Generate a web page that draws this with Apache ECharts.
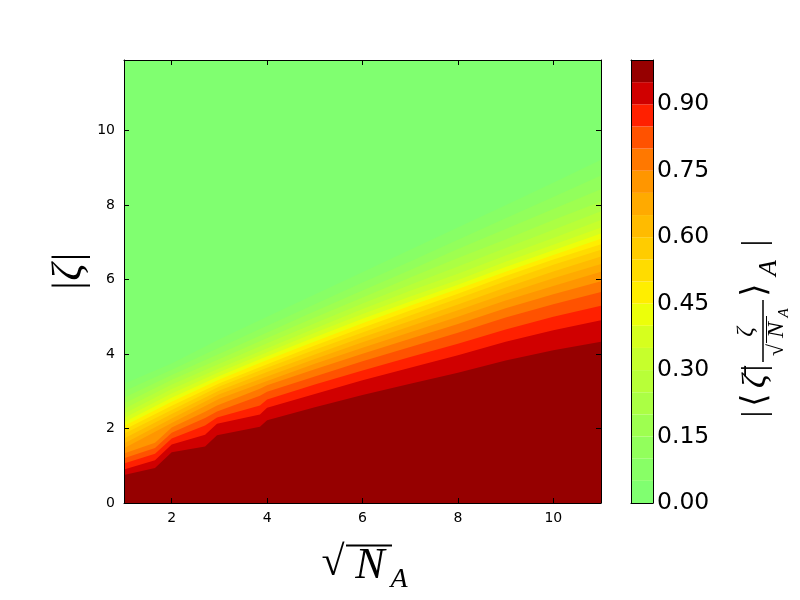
<!DOCTYPE html>
<html><head><meta charset="utf-8">
<script src="https://cdn.jsdelivr.net/npm/echarts@6/dist/echarts.min.js"></script>
<style>html,body{margin:0;padding:0;background:#fff}#c{width:800px;height:600px}</style>
</head><body><div id="c"></div>
<script>
// x samples (sqrt N_A) for the smooth upper contour lines and for the kinked lower ones
const xUpper = [1, 2, 3, 4, 5, 6, 7, 8, 9, 10, 11];
const xLower = [1, 1.65, 2, 2.7, 2.95, 3.85, 4, 5, 6, 7, 8, 9, 10, 11];

// |zeta| position of each contour level boundary
const lvl05 = [3.20, 3.75, 4.40, 5.00, 5.60, 6.20, 6.80, 7.40, 8.00, 8.60, 9.22];
const lvl10 = [3.00, 3.58, 4.18, 4.76, 5.34, 5.92, 6.49, 7.07, 7.65, 8.22, 8.80];
const lvl15 = [2.83, 3.44, 4.01, 4.58, 5.15, 5.71, 6.26, 6.82, 7.36, 7.90, 8.43];
const lvl20 = [2.67, 3.31, 3.87, 4.43, 4.98, 5.52, 6.06, 6.58, 7.08, 7.60, 8.10];
const lvl25 = [2.53, 3.18, 3.74, 4.29, 4.83, 5.36, 5.86, 6.35, 6.85, 7.34, 7.84];
const lvl30 = [2.40, 3.06, 3.62, 4.16, 4.69, 5.21, 5.70, 6.16, 6.65, 7.12, 7.60];
const lvl35 = [2.28, 2.94, 3.52, 4.05, 4.57, 5.08, 5.55, 5.99, 6.48, 6.94, 7.40];
const lvl40 = [2.17, 2.83, 3.41, 3.94, 4.45, 4.95, 5.41, 5.86, 6.34, 6.79, 7.24];
const lvl45 = [2.07, 2.72, 3.32, 3.84, 4.34, 4.83, 5.30, 5.75, 6.21, 6.66, 7.10];
const lvl50 = [1.97, 2.61, 3.22, 3.73, 4.23, 4.71, 5.17, 5.62, 6.10, 6.54, 6.95];
const lvl55 = [1.86, 2.50, 3.13, 3.63, 4.12, 4.58, 5.04, 5.49, 5.96, 6.40, 6.80];
const lvl60 = [1.73, 2.39, 3.02, 3.52, 3.99, 4.45, 4.89, 5.33, 5.79, 6.22, 6.62];
const lvl65 = [1.60, 2.27, 2.92, 3.40, 3.87, 4.32, 4.75, 5.18, 5.62, 6.04, 6.42];
const lvl70 = [1.47, 2.15, 2.80, 3.28, 3.74, 4.17, 4.59, 5.00, 5.44, 5.83, 6.21];
const lvl75 = [1.33, 1.62, 2.03, 2.45, 2.62, 3.07, 3.16, 3.59, 4.01, 4.41, 4.81, 5.23, 5.61, 5.96];
const lvl80 = [1.20, 1.48, 1.89, 2.28, 2.46, 2.88, 2.99, 3.40, 3.81, 4.19, 4.57, 4.98, 5.34, 5.67];
const lvl85 = [1.06, 1.32, 1.73, 2.08, 2.30, 2.62, 2.78, 3.18, 3.56, 3.92, 4.28, 4.66, 5.00, 5.30];
const lvl90 = [0.90, 1.15, 1.57, 1.83, 2.13, 2.38, 2.56, 2.93, 3.30, 3.63, 3.97, 4.33, 4.64, 4.91];
const lvl95 = [0.75, 0.94, 1.36, 1.52, 1.82, 2.05, 2.22, 2.57, 2.90, 3.20, 3.50, 3.83, 4.10, 4.33];

// colour levels 0.00..1.00 and band colours (band k = levels[k]..levels[k+1])
const levels = [0, 0.05, 0.10, 0.15, 0.20, 0.25, 0.30, 0.35, 0.40, 0.45, 0.50,
                0.55, 0.60, 0.65, 0.70, 0.75, 0.80, 0.85, 0.90, 0.95, 1.00];
const bandColors = ['#80ff70', '#88ff66', '#92ff5c', '#9eff50', '#abff44', '#b8ff38',
  '#c6ff2c', '#d6ff1e', '#ecff0a', '#ffee00', '#ffdc00', '#ffcc00', '#ffbb00',
  '#ffaa00', '#ff9600', '#ff7800', '#ff5200', '#ff2000', '#d00000', '#960000'];

const xTicks = [2, 4, 6, 8, 10];
const yTicks = [0, 2, 4, 6, 8, 10];
const cbTicks = [0, 0.15, 0.30, 0.45, 0.60, 0.75, 0.90];

const boundaries = [
  [xUpper, lvl05], [xUpper, lvl10], [xUpper, lvl15], [xUpper, lvl20], [xUpper, lvl25],
  [xUpper, lvl30], [xUpper, lvl35], [xUpper, lvl40], [xUpper, lvl45], [xUpper, lvl50],
  [xUpper, lvl55], [xUpper, lvl60], [xUpper, lvl65], [xUpper, lvl70],
  [xLower, lvl75], [xLower, lvl80], [xLower, lvl85], [xLower, lvl90], [xLower, lvl95]
];

const chart = echarts.init(document.getElementById('c'), null, {renderer: 'canvas'});

const tickStyle = {inside: true, length: 5, lineStyle: {color: '#000', width: 1}};
const lineStyle = {show: true, onZero: false, lineStyle: {color: '#000', width: 1}};
const tickFont = {color: '#000', fontSize: 14, fontFamily: 'DejaVu Sans'};

const contourSeries = boundaries.map((b, i) => ({
  type: 'line', xAxisIndex: 0, yAxisIndex: 0,
  data: b[0].map((x, j) => [x, b[1][j]]),
  symbol: 'none', showSymbol: false, silent: true, animation: false,
  lineStyle: {width: 0}, smooth: false,
  areaStyle: {color: bandColors[i + 1], opacity: 1, origin: 'start'}
}));

const cbSeries = bandColors.map((c, k) => ({
  type: 'bar', xAxisIndex: 2, yAxisIndex: 2, stack: 'cb',
  data: [+(levels[k + 1] - levels[k]).toFixed(4)],
  barWidth: '100%', barCategoryGap: '0%', silent: true, animation: false,
  itemStyle: {color: c}
}));

const serif = 'Liberation Serif';
const T = (x, y, text, font, extra) => Object.assign({type: 'text', x: x, y: y,
  style: {text: text, font: font, fill: '#000', align: 'center', verticalAlign: 'middle'}}, extra || {});

chart.setOption({
  animation: false,
  backgroundColor: '#ffffff',
  grid: [
    {left: 124, top: 60, width: 477, height: 443, show: true, backgroundColor: bandColors[0], borderWidth: 0},
    {left: 631, top: 60, width: 22, height: 443, show: false}
  ],
  xAxis: [
    {gridIndex: 0, type: 'value', min: 1, max: 11, position: 'bottom', z: 10,
     axisLine: lineStyle, axisTick: Object.assign({customValues: xTicks}, tickStyle),
     axisLabel: Object.assign({customValues: xTicks, margin: 8}, tickFont), splitLine: {show: false}},
    {gridIndex: 0, type: 'value', min: 1, max: 11, position: 'top', z: 10,
     axisLine: lineStyle, axisTick: Object.assign({customValues: xTicks}, tickStyle),
     axisLabel: {show: false}, splitLine: {show: false}},
    {gridIndex: 1, type: 'category', data: ['cb'], position: 'bottom', z: 10,
     axisLine: lineStyle, axisTick: {show: false}, axisLabel: {show: false}},
    {gridIndex: 1, type: 'category', data: ['cb'], position: 'top', z: 10,
     axisLine: lineStyle, axisTick: {show: false}, axisLabel: {show: false}}
  ],
  yAxis: [
    {gridIndex: 0, type: 'value', min: 0, max: 11.9, position: 'left', z: 10,
     axisLine: lineStyle, axisTick: Object.assign({customValues: yTicks}, tickStyle),
     axisLabel: Object.assign({customValues: yTicks, margin: 9}, tickFont), splitLine: {show: false}},
    {gridIndex: 0, type: 'value', min: 0, max: 11.9, position: 'right', z: 10,
     axisLine: lineStyle, axisTick: Object.assign({customValues: yTicks}, tickStyle),
     axisLabel: {show: false}, splitLine: {show: false}},
    {gridIndex: 1, type: 'value', min: 0, max: 1, position: 'right', z: 10,
     axisLine: lineStyle,
     axisTick: {customValues: cbTicks, inside: true, length: 4, lineStyle: {color: '#000'}},
     axisLabel: {customValues: cbTicks, formatter: v => v.toFixed(2), margin: 4,
                 color: '#000', fontSize: 23.5, fontFamily: 'DejaVu Sans'},
     splitLine: {show: false}},
    {gridIndex: 1, type: 'value', min: 0, max: 1, position: 'left', z: 10,
     axisLine: lineStyle, axisTick: {show: false}, axisLabel: {show: false}, splitLine: {show: false}}
  ],
  series: contourSeries.concat(cbSeries),
  graphic: [
    // x axis title: sqrt(N_A)
    T(333, 564, '\u221A', '42px ' + serif),
    {type: 'line', shape: {x1: 346, y1: 545.5, x2: 392, y2: 545.5}, style: {stroke: '#000', lineWidth: 2}},
    T(370, 566, 'N', 'italic 44px ' + serif),
    T(399, 580, 'A', 'italic 28px ' + serif),
    // y axis title: |zeta|
    T(70, 272, '|\u03B6|', 'italic 42px ' + serif, {rotation: Math.PI / 2}),
    // colorbar title
    {type: 'group', x: 760, y: 330, rotation: Math.PI / 2, children: [
      T(-84, -4, '|', '34px ' + serif),
      T(-70, -4, '\u27E8', '34px DejaVu Sans'),
      T(-51, -4, '\u03B6\u0304', 'italic 34px ' + serif),
      T(-38, -4, '|', '34px ' + serif),
      T(-2, -14, '\u03B6', 'italic 24px ' + serif),
      {type: 'line', shape: {x1: -32, y1: 3, x2: 30, y2: 3}, style: {stroke: '#000', lineWidth: 1.5}},
      T(-20, 17, '\u221A', '22px ' + serif),
      {type: 'line', shape: {x1: -13, y1: 6.5, x2: 14, y2: 6.5}, style: {stroke: '#000', lineWidth: 1}},
      T(0, 17, 'N', 'italic 24px ' + serif),
      T(17, 24, 'A', 'italic 15px ' + serif),
      T(40, -4, '\u27E9', '34px DejaVu Sans'),
      T(62, 9, 'A', 'italic 26px ' + serif),
      T(87, -4, '|', '34px ' + serif)
    ]}
  ]
});
</script></body></html>
